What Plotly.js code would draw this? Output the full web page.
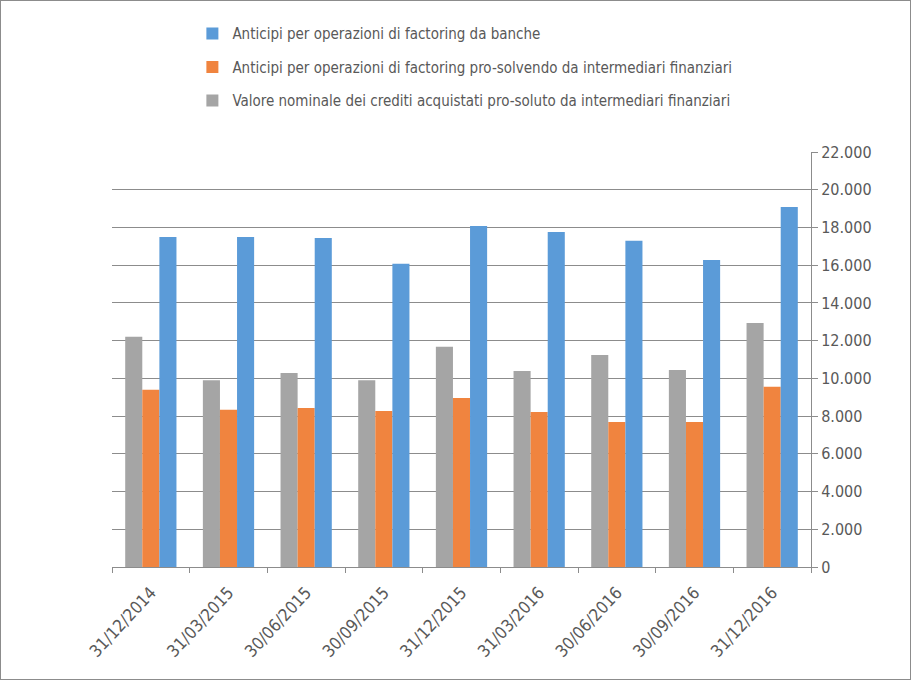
<!DOCTYPE html>
<html>
<head>
<meta charset="utf-8">
<script src="https://cdn.plot.ly/plotly-3.0.1.min.js"></script>
<style>
html,body{margin:0;padding:0;background:#fff;}
#chart{width:911px;height:680px;box-sizing:border-box;border:1px solid #8c8c8c;}
</style>
</head>
<body>
<div id="chart"></div>
<script>
var categories = ["31/12/2014","31/03/2015","30/06/2015","30/09/2015","31/12/2015","31/03/2016","30/06/2016","30/09/2016","31/12/2016"];
var seriesNames = [
  "Valore nominale dei crediti acquistati pro-soluto da intermediari finanziari",
  "Anticipi per operazioni di factoring pro-solvendo da intermediari finanziari",
  "Anticipi per operazioni di factoring da banche"
];
var valoreNominale = [12200, 9900, 10290, 9900, 11670, 10390, 11240, 10450, 12940];
var anticipiIntermediari = [9390, 8330, 8430, 8270, 8960, 8220, 7690, 7690, 9550];
var anticipiBanche = [17500, 17500, 17440, 16070, 18080, 17760, 17290, 16280, 19090];
var yTickVals = [0,2000,4000,6000,8000,10000,12000,14000,16000,18000,20000,22000];

var fontFam = '"DejaVu Sans Condensed","Liberation Sans Narrow","Roboto",sans-serif';
var colors = ['#a5a5a5', '#f0843f', '#5b9bd8'];
var ranks = [3, 2, 1];
var seriesData = [valoreNominale, anticipiIntermediari, anticipiBanche];

var traces = seriesData.map(function(vals, i){
  return {
    type: 'bar',
    x: categories,
    y: vals,
    name: seriesNames[i],
    legendgroup: 'g' + i,
    legendrank: ranks[i],
    marker: {color: colors[i], line: {width: 0}},
    hoverinfo: 'x+y'
  };
});

var layout = {
  width: 909, height: 678,
  margin: {l: 111, r: 99, t: 151, b: 112},
  paper_bgcolor: '#ffffff',
  plot_bgcolor: '#ffffff',
  separators: ',.',
  barmode: 'group',
  bargap: 0.34,
  bargroupgap: 0,
  font: {family: fontFam, color: '#595959', size: 15},
  showlegend: true,
  legend: {
    x: 0.115, y: 1.325, xanchor: 'left', yanchor: 'top',
    orientation: 'v',
    traceorder: 'grouped',
    tracegroupgap: 11,
    font: {family: fontFam, size: 15, color: '#595959'},
    bgcolor: 'rgba(0,0,0,0)'
  },
  xaxis: {
    type: 'category',
    tickangle: -47,
    tickson: 'boundaries',
    ticks: 'outside',
    ticklen: 5,
    tickcolor: '#8c8c8c',
    ticklabelstandoff: 8,
    showline: true,
    linecolor: '#8c8c8c',
    linewidth: 1,
    showgrid: false,
    tickfont: {family: fontFam, size: 17, color: '#595959'},
    fixedrange: true
  },
  yaxis: {
    side: 'right',
    range: [0, 22000],
    tickvals: yTickVals,
    tickformat: ',d',
    ticks: 'outside',
    ticklen: 6,
    tickcolor: '#8c8c8c',
    showline: true,
    linecolor: '#8c8c8c',
    linewidth: 1,
    showgrid: true,
    gridcolor: '#8c8c8c',
    gridwidth: 1,
    zeroline: false,
    tickfont: {family: fontFam, size: 16, color: '#595959'},
    fixedrange: true
  }
};

Plotly.newPlot('chart', traces, layout, {displayModeBar: false, staticPlot: true});
</script>
</body>
</html>
